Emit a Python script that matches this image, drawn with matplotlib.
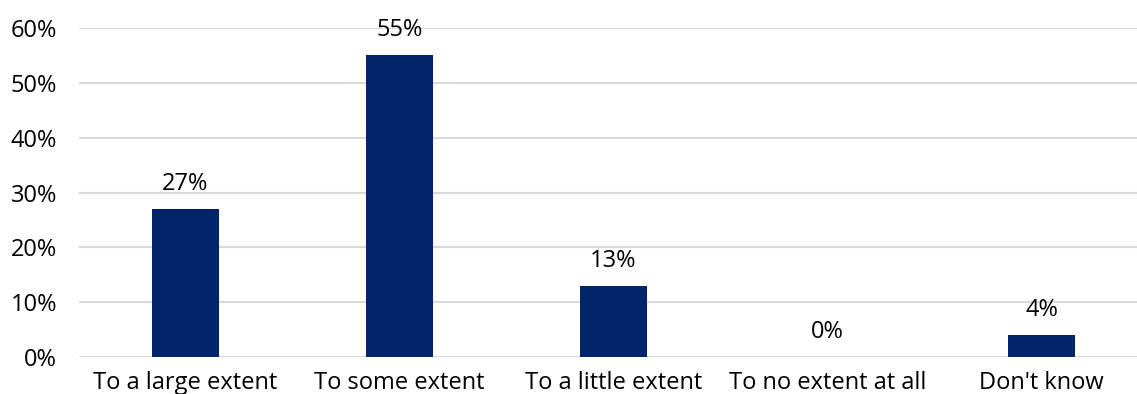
import matplotlib.pyplot as plt
from matplotlib.ticker import PercentFormatter

categories = ["To a large extent", "To some extent", "To a little extent",
              "To no extent at all", "Don't know"]
shares = [27, 55, 13, 0, 4]
y_ticks = [0, 10, 20, 30, 40, 50, 60]

plt.rcParams["font.family"] = ["Open Sans", "DejaVu Sans"]

fig = plt.figure(figsize=(11.37, 3.94), dpi=100)
ax = fig.add_axes([78.5 / 1137, 37 / 394, 1070 / 1137, 329 / 394])

x = range(len(categories))
bars = ax.bar(x, shares, width=0.313, color="#00246A", zorder=3)

# value labels sit a fixed distance above each bar
for bar, v in zip(bars, shares):
    ax.annotate(f"{v}%", (bar.get_x() + bar.get_width() / 2, v),
                xytext=(0, 13.7), textcoords="offset points",
                ha="center", va="baseline", fontsize=17, color="black")

ax.set_xlim(-0.5, len(categories) - 0.5)
ax.set_ylim(0, 60)
ax.set_yticks(y_ticks)
ax.yaxis.set_major_formatter(PercentFormatter(decimals=0))
ax.set_xticks(list(x))
ax.set_xticklabels(categories)

ax.grid(axis="y", color="#D9D9D9", linewidth=1.5, zorder=0)
ax.tick_params(axis="both", length=0, labelsize=17, colors="black")
ax.tick_params(axis="y", pad=15.5)
ax.tick_params(axis="x", pad=10)
for s in ax.spines.values():
    s.set_visible(False)

fig.savefig("out.png", dpi=100)
